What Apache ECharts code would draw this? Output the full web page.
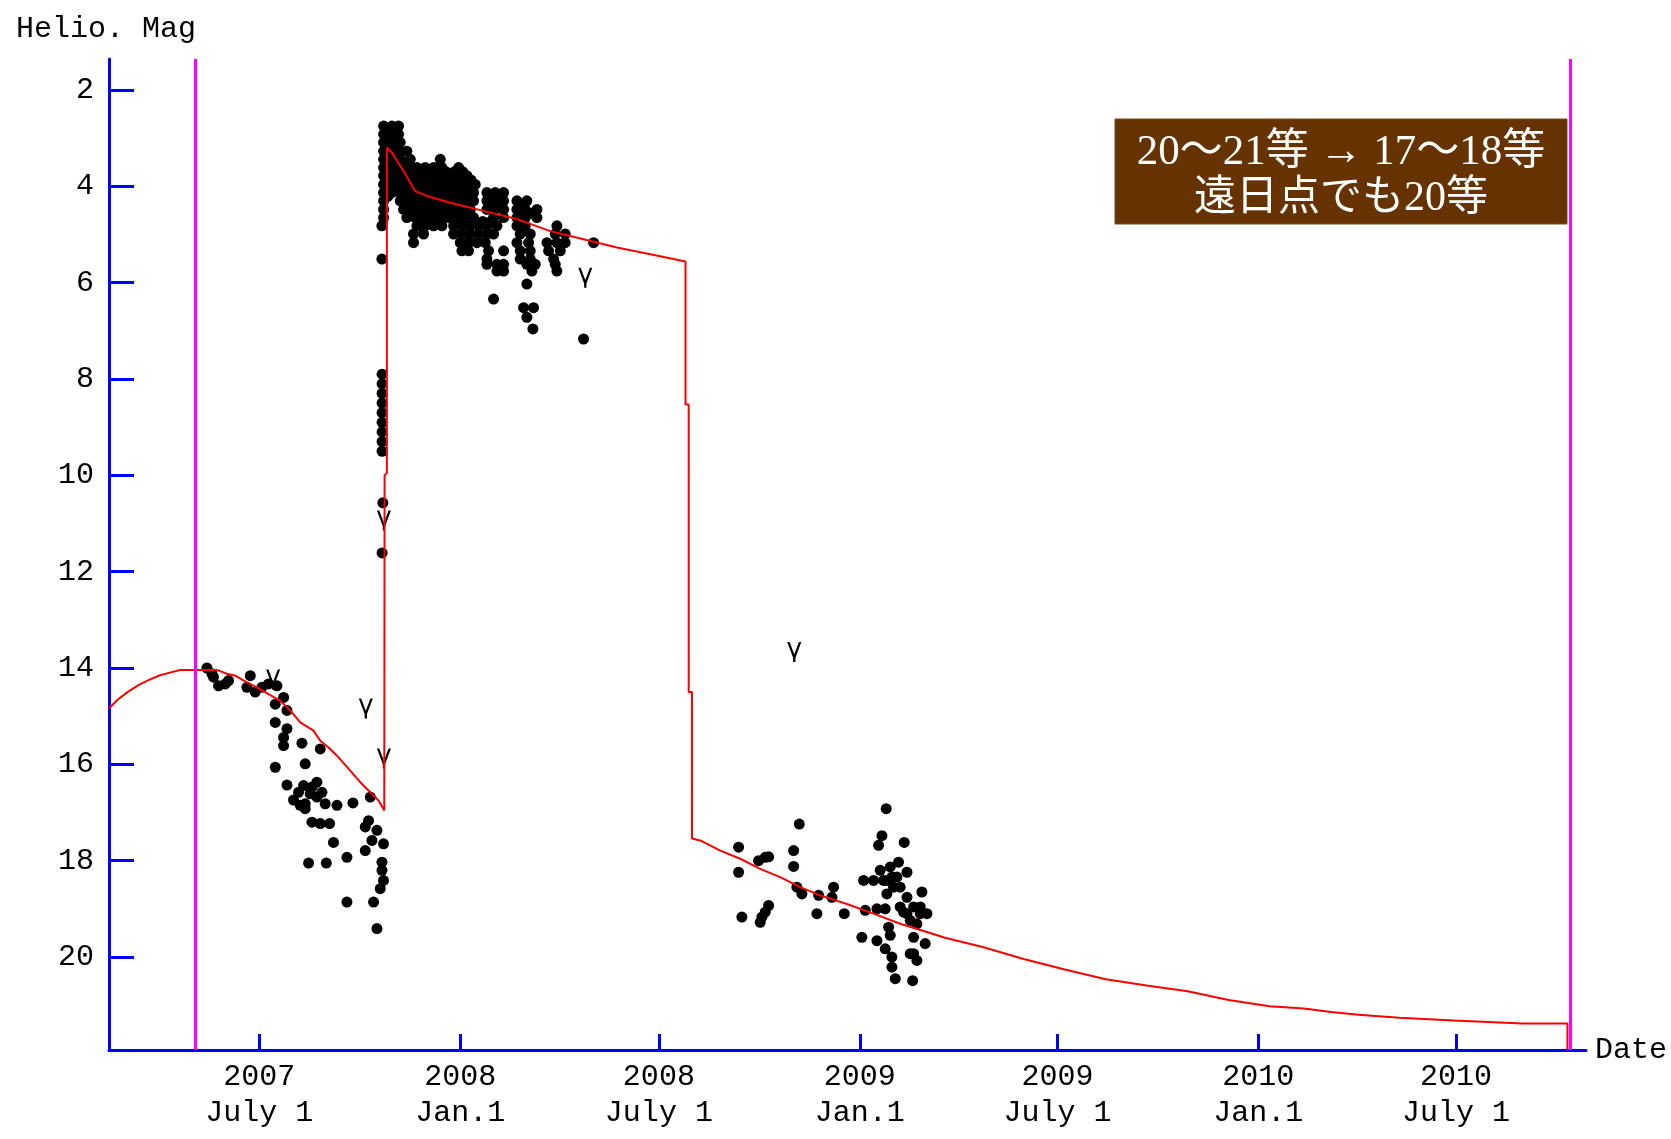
<!DOCTYPE html>
<html><head><meta charset="utf-8">
<script src="https://cdn.jsdelivr.net/npm/echarts@6/dist/echarts.min.js"></script>
<style>html,body{margin:0;padding:0;background:#fff}#chart{width:1671px;height:1139px}</style>
</head><body><div id="chart"></div>
<script>
// x values: days counted from 2007-07-01 ; y values: heliocentric magnitude
const xTickDays = [0, 184, 366, 550, 731, 915, 1096];
const xTickLabels = ['2007\nJuly 1', '2008\nJan.1', '2008\nJuly 1', '2009\nJan.1', '2009\nJuly 1', '2010\nJan.1', '2010\nJuly 1'];
const magTicks = [2, 4, 6, 8, 10, 12, 14, 16, 18, 20];
const windowDays = [-58.3, 1200.7];

const modelCurve = [
 [-137.6,14.84],[-129.8,14.66],[-120,14.49],[-110.3,14.35],[-100.5,14.24],[-90.8,14.15],[-81,14.09],[-72.4,14.04],[-38.8,14.04],
 [-29.6,14.12],[-22.0,14.16],[-11.3,14.30],[-2.1,14.40],[8.5,14.54],[19.2,14.68],[28.4,14.88],[37.5,15.13],[49.7,15.30],
 [55.9,15.51],[63.5,15.65],[71.2,15.82],[83.3,16.13],[92.5,16.37],[101.7,16.58],[109.3,16.75],[114.5,16.96],[114.8,10.0],
 [116.9,9.95],[116.9,3.2],[121.5,3.30],[126.1,3.47],[132.2,3.68],[138.3,3.92],[142.9,4.10],[153.6,4.20],[174.9,4.34],
 [205.4,4.51],[236.0,4.68],[266.5,4.93],[297.0,5.10],[327.6,5.27],[358.1,5.41],[390.4,5.56],[390.4,8.53],[393.3,8.53],
 [393.3,14.5],[396.3,14.5],[396.3,17.54],[403.9,17.58],[422.2,17.79],[440.5,17.96],[458.8,18.17],[477.1,18.34],[495.4,18.55],
 [513.7,18.72],[538.2,18.90],[562.6,19.10],[587.0,19.31],[611.5,19.48],[628.0,19.60],[662.6,19.79],[700.1,20.04],[737.7,20.26],
 [775.3,20.46],[812.7,20.59],[850.3,20.71],[887.8,20.89],[925.4,21.02],[956.7,21.07],[981.7,21.14],[1006.7,21.20],
 [1044.2,21.26],[1094.2,21.32],[1156.8,21.38],[1198.1,21.38],[1198.1,21.93]
];

const obsEarly = [
 [-47.9,14.0],[-43.3,14.12],[-41.9,14.19],[-37.3,14.37],[-31.1,14.33],[-28.1,14.26],
 [-11.3,14.4],[-8.2,14.16],[-3.7,14.5],[2.4,14.4],[8.5,14.33],[16.2,14.37],
 [22.3,14.61],[14.7,14.75],[25.4,14.88],[14.7,15.13],[25.4,15.26],[22.3,15.44],[22.3,15.61],
 [39.1,15.56],[55.9,15.68],[14.7,16.06],[42.1,15.99],
 [25.4,16.43],[40.6,16.44],[52.8,16.37],[46.7,16.61],[31.4,16.74],[42.1,16.82],[52.8,16.68],[60.4,16.82],[42.1,16.92],
 [36.0,16.58],[48.3,16.47],[57.4,16.58],[37.5,16.85],
 [71.2,16.85],[85.8,16.8],[48.3,17.2],[55.9,17.23],[64.4,17.23],[68.0,17.62],[80.3,17.93],[45.2,18.05],[61.4,18.05],
 [101.7,16.68],[100.1,17.17],[97.1,17.3],[107.8,17.37],[103.2,17.58],[113.8,17.65],[97.1,17.79],[112.4,18.03],[112.4,18.2],
 [113.8,18.41],[110.8,18.58],[80.3,18.86],[104.7,18.86],[107.8,19.41]
];

const obsOutburst = [
 [112.5,7.9],[112.5,8.1],[112.5,8.3],[112.5,8.5],[112.5,8.7],[112.5,8.9],[112.5,9.1],[112.5,9.3],[112.5,9.5],
 [113.2,10.57],[112.5,11.61],
 [113.9,2.75],[121.5,2.75],[127.6,2.75],
 [113.9,2.92],[121.5,2.92],[127.6,2.92],
 [113.9,3.09],[121.5,3.09],[129.1,3.09],
 [113.9,3.27],[121.5,3.27],[129.1,3.27],[135.2,3.27],
 [113.9,3.44],[121.5,3.44],[129.1,3.44],[138.3,3.44],[165.8,3.44],
 [113.9,3.61],[121.5,3.61],[129.1,3.61],[136.8,3.61],[144.4,3.61],[152.0,3.61],[159.7,3.61],[167.3,3.61],[182.6,3.61],
 [113.9,3.78],[121.5,3.78],[129.1,3.78],[136.8,3.78],[144.4,3.78],[152.0,3.78],[159.7,3.78],[167.3,3.78],[174.9,3.78],[182.6,3.78],[190.2,3.78],
 [113.9,3.96],[121.5,3.96],[129.1,3.96],[136.8,3.96],[144.4,3.96],[152.0,3.96],[159.7,3.96],[167.3,3.96],[174.9,3.96],[182.6,3.96],[190.2,3.96],[197.8,3.96],
 [113.9,4.13],[121.5,4.13],[129.1,4.13],[136.8,4.13],[144.4,4.13],[152.0,4.13],[159.7,4.13],[167.3,4.13],[174.9,4.13],[182.6,4.13],[190.2,4.13],[196.3,4.13],[208.5,4.13],[216.1,4.13],[223.8,4.13],
 [113.9,4.30],[129.1,4.30],[136.8,4.30],[144.4,4.30],[152.0,4.30],[159.7,4.30],[167.3,4.30],[174.9,4.30],[182.6,4.30],[190.2,4.30],[196.3,4.30],[208.5,4.30],[216.1,4.30],[223.8,4.30],[236.0,4.30],[245.1,4.30],
 [113.9,4.48],[132.2,4.48],[139.8,4.48],[147.4,4.48],[155.1,4.48],[162.7,4.48],[170.3,4.48],[178.0,4.48],[185.6,4.48],[193.2,4.48],[208.5,4.48],[216.1,4.48],[223.8,4.48],[236.0,4.48],[243.6,4.48],[254.3,4.48],
 [113.9,4.65],[135.2,4.65],[142.9,4.65],[150.5,4.65],[158.1,4.65],[165.8,4.65],[173.4,4.65],[181.0,4.65],[188.7,4.65],[196.3,4.65],[214.6,4.65],[223.8,4.65],[236.0,4.65],[243.6,4.65],[254.3,4.65],
 [112.3,4.82],[144.4,4.82],[152.0,4.82],[159.7,4.82],[167.3,4.82],[178.0,4.82],[185.6,4.82],[193.2,4.82],[200.9,4.82],[208.5,4.82],[217.7,4.82],[236.0,4.82],[243.6,4.82],[272.6,4.82],
 [141.3,4.99],[150.5,4.99],[178.0,4.99],[185.6,4.99],[193.2,4.99],[200.9,4.99],[208.5,4.99],[214.6,4.99],[239.0,4.99],[248.2,4.99],[271.1,4.99],[280.2,4.99],
 [141.3,5.17],[184.1,5.17],[191.7,5.17],[199.3,5.17],[207.0,5.17],[236.0,5.17],[246.7,5.17],[263.5,5.17],[272.6,5.17],[280.2,5.17],[306.2,5.17],
 [185.6,5.34],[191.7,5.34],[210.0,5.34],[223.8,5.34],[239.0,5.34],[248.2,5.34],[265.0,5.34],[275.7,5.34],
 [112.3,5.51],[208.5,5.51],[239.0,5.51],[248.2,5.51],[269.6,5.51],
 [208.5,5.62],[217.7,5.62],[223.8,5.62],[245.1,5.62],[252.8,5.62],[271.1,5.62],
 [217.7,5.76],[223.8,5.76],[249.7,5.76],[272.6,5.76],
 [245.1,6.03],[214.6,6.34],[242.1,6.52],[251.2,6.52],[245.1,6.72],[250.6,6.96],[297.0,7.17],
 [117.7,2.83],[125.3,2.83],[117.7,3.00],[125.3,3.00],[117.7,3.18],[125.3,3.18],[117.7,3.35],[125.3,3.35],[117.7,3.52],[125.3,3.52],[132.9,3.52],
 [117.7,3.70],[125.3,3.70],[132.9,3.70],[140.6,3.70],[148.2,3.70],[155.8,3.70],[163.5,3.70],[171.1,3.70],[178.7,3.70],[186.4,3.70],
 [117.7,3.87],[125.3,3.87],[132.9,3.87],[140.6,3.87],[148.2,3.87],[155.8,3.87],[163.5,3.87],[171.1,3.87],[178.7,3.87],[186.4,3.87],[194.0,3.87],
 [117.7,4.04],[125.3,4.04],[132.9,4.04],[140.6,4.04],[148.2,4.04],[155.8,4.04],[163.5,4.04],[171.1,4.04],[178.7,4.04],[186.4,4.04],[194.0,4.04],
 [117.7,4.21],[132.9,4.21],[140.6,4.21],[148.2,4.21],[155.8,4.21],[163.5,4.21],[171.1,4.21],[178.7,4.21],[186.4,4.21],[194.0,4.21],[212.3,4.21],[220.0,4.21],
 [136.0,4.39],[143.6,4.39],[151.2,4.39],[158.9,4.39],[166.5,4.39],[174.1,4.39],[181.8,4.39],[189.4,4.39],[212.3,4.39],[220.0,4.39],[239.8,4.39],
 [138.9,4.56],[146.6,4.56],[154.3,4.56],[162.0,4.56],[169.6,4.56],[177.2,4.56],[184.9,4.56],[192.5,4.56],[239.8,4.56],[249.0,4.56],
 [148.2,4.73],[155.8,4.73],[163.5,4.73],[181.8,4.73],[189.4,4.73],[197.1,4.73],[204.7,4.73],[212.3,4.73]
];

const obsLate = [
 [439.0,17.72],[439.0,18.24],[463.4,17.93],[457.3,18.0],[466.5,17.92],[442.0,19.17],[458.8,19.28],[463.4,19.07],[466.5,18.93],[460.4,19.17],
 [494.6,17.24],[489.4,17.79],[489.4,18.12],[492.4,18.55],[497.0,18.69],[512.3,18.72],[526.0,18.55],[524.5,18.76],[510.7,19.1],[535.8,19.1],
 [553.5,18.41],[574.2,16.92],[570.3,17.48],[567.2,17.68],[590.7,17.62],[585.5,18.03],[593.2,18.24],
 [568.7,18.2],[577.9,18.13],[584.0,18.34],[571.8,18.41],[580.9,18.55],[574.8,18.69],[562.6,18.41],[587.0,18.55],[574.8,18.41],[579.4,18.34],
 [606.9,18.65],[593.2,18.76],[599.3,18.96],[590.1,19.07],[605.4,19.1],[611.5,19.1],[596.2,19.24],[602.3,19.31],[587.0,18.96],[605.4,18.96],[593.2,19.1],
 [565.7,19.0],[555.0,19.03],[573.3,19.0],[576.4,19.38],[577.9,19.55],[551.9,19.59],[565.7,19.66],
 [573.3,19.83],[579.4,20.0],[579.4,20.21],[582.5,20.45],
 [599.3,19.59],[609.9,19.72],[599.3,19.93],[602.3,20.07],[596.2,19.93],[598.4,20.49]
];

const upperLimits = [[12.7,14.24],[97.6,14.84],[114.2,10.94],[114.2,15.88],[298.6,5.9],[490.0,13.67]];

const noteLines = ['20～21等 → 17～18等', '遠日点でも20等'];

const MONO = '"Liberation Mono", "DejaVu Sans Mono", monospace';
const NOTE_FONT = '"Liberation Serif", "Noto Sans CJK JP", serif';
const chart = echarts.init(document.getElementById('chart'), null, {renderer: 'canvas'});

const dotStyle = {color: '#000000', opacity: 1};
const option = {
  animation: false,
  backgroundColor: '#ffffff',
  grid: {left: 109, right: 85, top: 59, bottom: 89, containLabel: false},
  xAxis: {
    type: 'value', min: -137.6, max: 1215.1,
    name: 'Date', nameLocation: 'end', nameGap: 9,
    nameTextStyle: {fontFamily: MONO, fontSize: 30, color: '#000', align: 'left', verticalAlign: 'middle'},
    axisLine: {show: true, onZero: false, lineStyle: {color: '#0000ff', width: 3}},
    axisTick: {show: true, inside: true, length: 16, customValues: xTickDays, lineStyle: {color: '#0000ff', width: 3}},
    axisLabel: {show: true, customValues: xTickDays, margin: 9, fontFamily: MONO, fontSize: 30, lineHeight: 36, color: '#000',
      formatter: v => { const i = xTickDays.indexOf(v); return i >= 0 ? xTickLabels[i] : ''; }},
    splitLine: {show: false}
  },
  yAxis: {
    type: 'value', inverse: true, min: 1.357, max: 21.93,
    axisLine: {show: true, onZero: false, lineStyle: {color: '#0000ff', width: 3}},
    axisTick: {show: true, inside: true, length: 25, customValues: magTicks, lineStyle: {color: '#0000ff', width: 3}},
    axisLabel: {show: true, customValues: magTicks, margin: 15, fontFamily: MONO, fontSize: 30, color: '#000'},
    splitLine: {show: false}
  },
  graphic: [
    {type: 'text', x: 16, y: 29, style: {text: 'Helio. Mag', fontFamily: MONO, fontSize: 30, fill: '#000', verticalAlign: 'middle', align: 'left'}},
    {type: 'rect', shape: {x: 1115, y: 119, width: 452, height: 105}, style: {fill: '#663300', stroke: '#7a4a1a', lineWidth: 1}, z: 10},
    {type: 'text', x: 1341, y: 153, z: 11, style: {text: noteLines[0], fontFamily: NOTE_FONT, fontSize: 43, fill: '#fff', align: 'center', verticalAlign: 'middle'}},
    {type: 'text', x: 1341, y: 199, z: 11, style: {text: noteLines[1], fontFamily: NOTE_FONT, fontSize: 42, fill: '#fff', align: 'center', verticalAlign: 'middle'}}
  ],
  series: [
    {type: 'scatter', data: obsEarly, symbol: 'circle', symbolSize: 11, itemStyle: dotStyle, silent: true, z: 2},
    {type: 'scatter', data: obsOutburst, symbol: 'circle', symbolSize: 11, itemStyle: dotStyle, silent: true, z: 2},
    {type: 'scatter', data: obsLate, symbol: 'circle', symbolSize: 11, itemStyle: dotStyle, silent: true, z: 2},
    {type: 'scatter', data: upperLimits, symbol: 'path://M0,0 L2,0 L6,11 L10,0 L12,0 L7,14 L7,18 L5,18 L5,14 Z',
      symbolSize: [14, 20], itemStyle: dotStyle, silent: true, z: 2},
    {type: 'line', data: modelCurve, showSymbol: false, symbol: 'none', silent: true, z: 3,
      lineStyle: {color: '#ff0000', width: 2},
      markLine: {silent: true, symbol: ['none', 'none'], label: {show: false},
        lineStyle: {color: '#ff00ff', width: 3, type: 'solid'},
        data: windowDays.map(d => ({xAxis: d}))}}
  ]
};
chart.setOption(option);
</script></body></html>
